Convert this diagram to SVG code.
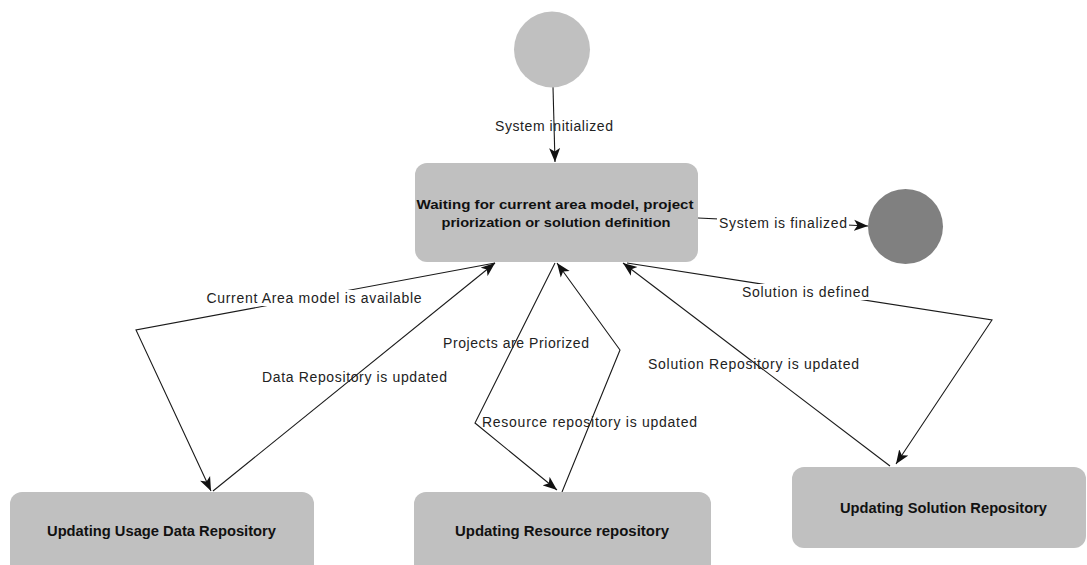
<svg xmlns="http://www.w3.org/2000/svg" width="1087" height="565" viewBox="0 0 1087 565">
<style>
.box{fill:#c0c0c0;}
.bt{font-family:"Liberation Sans",Arial,sans-serif;font-weight:bold;fill:#111;text-anchor:middle;}
.lbl{font-family:"Liberation Sans",Arial,sans-serif;font-size:14px;fill:#222;text-anchor:middle;}
.lbg{fill:#fff;}
.edge{fill:none;stroke:#1a1a1a;stroke-width:1.1;marker-end:url(#arr);}
</style>
<defs>
<marker id="arr" markerUnits="userSpaceOnUse" markerWidth="16" markerHeight="12" refX="14" refY="6" orient="auto">
<path d="M0,0.5 L14,6 L0,11.5 L3.5,6 z" fill="#111"/>
</marker>
</defs>
<rect width="1087" height="565" fill="#fff"/>
<g id="connectors">
<path class="edge" d="M553,87 L555,162"/>
<path class="edge" d="M698,218 L868,226"/>
<path class="edge" d="M495,263 L136,330 L211,491"/>
<path class="edge" d="M213,491 L495,263"/>
<path class="edge" d="M555,263 L475,423 L557,490"/>
<path class="edge" d="M562,492 L620,350 L557,263"/>
<path class="edge" d="M627,263 L992,320 L896,464"/>
<path class="edge" d="M890,466 L623,263"/>
</g>
<g id="labels">
<text class="lbl" x="554" y="131" textLength="118">System initialized</text>
<rect class="lbg" x="717" y="214" width="132" height="16"/>
<text class="lbl" x="783" y="228" textLength="128">System is finalized</text>
<rect class="lbg" x="230" y="290" width="168" height="16"/>
<text class="lbl" x="314" y="303" textLength="215">Current Area model is available</text>
<text class="lbl" x="354.5" y="382" textLength="185">Data Repository is updated</text>
<text class="lbl" x="516" y="348" textLength="146">Projects are Priorized</text>
<text class="lbl" x="589.5" y="427" textLength="215">Resource repository is updated</text>
<rect class="lbg" x="740" y="284" width="131" height="16"/>
<text class="lbl" x="805.5" y="297" textLength="127">Solution is defined</text>
<text class="lbl" x="753.5" y="369" textLength="211">Solution Repository is updated</text>
</g>
<g id="initial">
<circle cx="552" cy="49.5" r="38" fill="#c0c0c0"/>
</g>
<g id="final">
<circle cx="905.5" cy="226.5" r="37.5" fill="#808080"/>
</g>
<g id="waiting">
<rect class="box" x="415" y="163" width="283" height="99" rx="12"/>
<text class="bt" x="555" y="209" font-size="13" textLength="277" lengthAdjust="spacingAndGlyphs">Waiting for current area model, project</text>
<text class="bt" x="556" y="227" font-size="13" textLength="229" lengthAdjust="spacingAndGlyphs">priorization or solution definition</text>
</g>
<g id="usage">
<rect class="box" x="10" y="492" width="304" height="100" rx="12"/>
<text class="bt" x="161.5" y="536" font-size="14" textLength="229" lengthAdjust="spacingAndGlyphs">Updating Usage Data Repository</text>
</g>
<g id="resource">
<rect class="box" x="414" y="492" width="297" height="100" rx="12"/>
<text class="bt" x="562" y="536" font-size="14" textLength="214" lengthAdjust="spacingAndGlyphs">Updating Resource repository</text>
</g>
<g id="solution">
<rect class="box" x="792" y="467" width="294" height="81" rx="12"/>
<text class="bt" x="943.5" y="513" font-size="14" textLength="207" lengthAdjust="spacingAndGlyphs">Updating Solution Repository</text>
</g>
</svg>
